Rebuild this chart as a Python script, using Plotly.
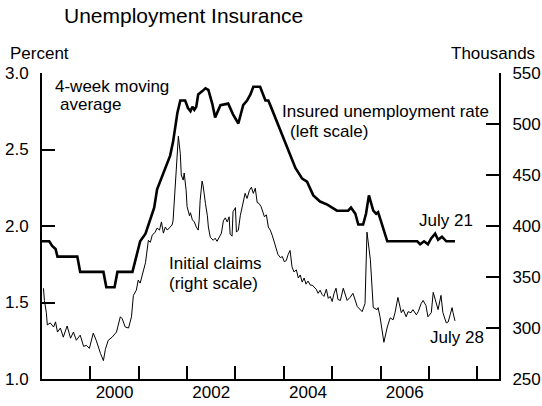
import plotly.graph_objects as go

# ---- Data ----
rate_years = [1999.00, 1999.15, 1999.21, 1999.28, 1999.32, 1999.73, 1999.79, 2000.27, 2000.33, 2000.50,
              2000.56, 2000.87, 2000.95, 2001.03, 2001.14, 2001.24, 2001.32, 2001.38, 2001.45, 2001.55,
              2001.65, 2001.71, 2001.80, 2001.86, 2001.96, 2002.02, 2002.07, 2002.11, 2002.15, 2002.19,
              2002.23, 2002.31, 2002.38, 2002.44, 2002.52, 2002.58, 2002.69, 2002.85, 2002.95, 2003.06,
              2003.16, 2003.24, 2003.31, 2003.37, 2003.51, 2003.62, 2003.68, 2003.72, 2003.82, 2003.93,
              2004.03, 2004.13, 2004.24, 2004.38, 2004.48, 2004.61, 2004.75, 2004.90, 2005.10, 2005.33,
              2005.39, 2005.48, 2005.54, 2005.64, 2005.70, 2005.76, 2005.85, 2005.91, 2005.95, 2006.03,
              2006.14, 2006.76, 2006.82, 2006.90, 2006.98, 2007.05, 2007.13, 2007.19, 2007.27, 2007.36,
              2007.54]
rate_values = [1.90, 1.90, 1.87, 1.85, 1.80, 1.80, 1.70, 1.70, 1.60, 1.60,
               1.70, 1.70, 1.80, 1.90, 1.95, 2.04, 2.12, 2.24, 2.30, 2.38,
               2.46, 2.55, 2.74, 2.82, 2.82, 2.77, 2.75, 2.78, 2.76, 2.78,
               2.86, 2.88, 2.90, 2.89, 2.80, 2.71, 2.79, 2.80, 2.73, 2.67,
               2.79, 2.82, 2.86, 2.91, 2.91, 2.82, 2.82, 2.79, 2.71, 2.63,
               2.55, 2.46, 2.38, 2.31, 2.29, 2.20, 2.16, 2.14, 2.10, 2.10,
               2.12, 2.08, 2.01, 2.01, 2.08, 2.20, 2.10, 2.08, 2.09, 2.01,
               1.90, 1.90, 1.88, 1.90, 1.88, 1.92, 1.95, 1.91, 1.93, 1.90,
               1.90]

claims_years = [1999.03, 1999.05, 1999.09, 1999.11, 1999.17, 1999.24, 1999.28, 1999.32, 1999.38, 1999.44,
                1999.52, 1999.59, 1999.65, 1999.71, 1999.79, 1999.86, 1999.92, 1999.98, 2000.06, 2000.12,
                2000.21, 2000.27, 2000.31, 2000.37, 2000.45, 2000.54, 2000.62, 2000.66, 2000.72, 2000.79,
                2000.85, 2000.89, 2000.95, 2000.99, 2001.03, 2001.07, 2001.14, 2001.20, 2001.24, 2001.28,
                2001.34, 2001.38, 2001.43, 2001.47, 2001.51, 2001.55, 2001.59, 2001.65, 2001.69, 2001.71,
                2001.76, 2001.80, 2001.82, 2001.86, 2001.88, 2001.92, 2001.94, 2001.98, 2002.00, 2002.05,
                2002.07, 2002.11, 2002.15, 2002.19, 2002.23, 2002.25, 2002.27, 2002.31, 2002.33, 2002.38,
                2002.42, 2002.44, 2002.48, 2002.54, 2002.58, 2002.62, 2002.67, 2002.71, 2002.75, 2002.79,
                2002.83, 2002.87, 2002.89, 2002.93, 2002.95, 2003.00, 2003.02, 2003.06, 2003.10, 2003.14,
                2003.20, 2003.24, 2003.29, 2003.33, 2003.37, 2003.41, 2003.45, 2003.49, 2003.53, 2003.60,
                2003.64, 2003.68, 2003.72, 2003.76, 2003.80, 2003.84, 2003.88, 2003.93, 2003.97, 2004.01,
                2004.05, 2004.09, 2004.13, 2004.17, 2004.21, 2004.26, 2004.30, 2004.34, 2004.38, 2004.42,
                2004.46, 2004.50, 2004.55, 2004.59, 2004.63, 2004.67, 2004.71, 2004.75, 2004.79, 2004.83,
                2004.88, 2004.92, 2004.96, 2005.00, 2005.04, 2005.08, 2005.12, 2005.17, 2005.23, 2005.31,
                2005.37, 2005.43, 2005.52, 2005.58, 2005.62, 2005.68, 2005.72, 2005.79, 2005.85, 2005.93,
                2005.95, 2005.99, 2006.05, 2006.07, 2006.14, 2006.20, 2006.26, 2006.30, 2006.36, 2006.43,
                2006.47, 2006.53, 2006.57, 2006.63, 2006.67, 2006.74, 2006.78, 2006.84, 2006.88, 2006.94,
                2006.98, 2007.05, 2007.09, 2007.15, 2007.19, 2007.25, 2007.29, 2007.36, 2007.40, 2007.44,
                2007.48, 2007.50, 2007.54]
claims_values = [339, 327, 315, 303, 305, 301, 306, 296, 300, 291,
                 302, 290, 296, 288, 293, 282, 283, 280, 295, 288,
                 275, 268, 279, 288, 291, 296, 311, 309, 301, 300,
                 311, 332, 337, 347, 344, 352, 364, 386, 384, 391,
                 394, 398, 396, 404, 393, 399, 396, 399, 401, 405,
                 445, 482, 488, 471, 450, 445, 452, 435, 419, 410,
                 413, 406, 404, 399, 396, 406, 425, 444, 440, 422,
                 410, 399, 389, 386, 388, 385, 389, 393, 405, 408,
                 404, 409, 392, 390, 414, 418, 394, 396, 410, 419,
                 432, 427, 435, 438, 432, 437, 423, 422, 419, 409,
                 411, 399, 396, 391, 384, 379, 372, 369, 370, 365,
                 366, 372, 376, 360, 355, 357, 349, 352, 345, 349,
                 343, 346, 342, 342, 340, 338, 334, 337, 333, 331,
                 338, 329, 331, 326, 334, 339, 328, 327, 339, 327,
                 330, 334, 321, 318, 316, 324, 394, 367, 320, 318,
                 320, 311, 290, 286, 301, 310, 308, 315, 330, 315,
                 318, 311, 316, 315, 318, 313, 316, 324, 327, 322,
                 311, 315, 335, 324, 318, 332, 315, 305, 306, 313,
                 320, 315, 307]

left_ticks = [1.0, 1.5, 2.0, 2.5, 3.0]
left_ticktext = ["1.0", "1.5", "2.0", "2.5", "3.0"]
right_ticks = [250, 300, 350, 400, 450, 500, 550]
year_boundaries = [2000, 2001, 2002, 2003, 2004, 2005, 2006, 2007, 2008]
year_label_pos = [2000.5, 2002.5, 2004.5, 2006.5]
year_labels = ["2000", "2002", "2004", "2006"]
x_range = [1999.0, 2008.45]

FONT = "Liberation Sans, Arial, Helvetica, sans-serif"
W, H = 542, 406
L, R, T, B = 42, 43, 73, 27
PW, PH = W - L - R, H - T - B


def px(xp):
    return (xp - L) / PW


def py(yp):
    return (H - B - yp) / PH


fig = go.Figure()
fig.add_trace(go.Scatter(x=claims_years, y=claims_values, mode="lines", xaxis="x", yaxis="y2",
                         line=dict(color="black", width=1), showlegend=False, hoverinfo="skip"))
fig.add_trace(go.Scatter(x=rate_years, y=rate_values, mode="lines", xaxis="x", yaxis="y",
                         line=dict(color="black", width=2.6), showlegend=False, hoverinfo="skip"))
# invisible helper trace so the label axis is drawn
fig.add_trace(go.Scatter(x=[year_label_pos[0]], y=[left_ticks[0]], mode="markers", xaxis="x2", yaxis="y",
                         marker=dict(opacity=0), showlegend=False, hoverinfo="skip"))

fig.update_layout(
    width=W, height=H,
    margin=dict(l=L, r=R, t=T, b=B, pad=0, autoexpand=False),
    paper_bgcolor="white", plot_bgcolor="white",
    font=dict(family=FONT, size=17, color="black"),
    xaxis=dict(range=x_range, showgrid=False, zeroline=False, automargin=False,
               showline=True, linecolor="black", linewidth=2,
               tickmode="array", tickvals=year_boundaries, showticklabels=False,
               ticks="inside", ticklen=13, tickwidth=2, tickcolor="black"),
    xaxis2=dict(range=x_range, overlaying="x", side="bottom", anchor="y",
                showgrid=False, zeroline=False, automargin=False, showline=False,
                tickmode="array", tickvals=year_label_pos, ticktext=year_labels,
                ticks="", ticklabelstandoff=1),
    yaxis=dict(range=[1.0, 3.0], showgrid=False, zeroline=False, automargin=False,
               showline=True, linecolor="black", linewidth=2,
               tickmode="array", tickvals=left_ticks, ticktext=left_ticktext,
               ticks="inside", ticklen=13, tickwidth=2, tickcolor="black",
               ticklabelstandoff=8),
    yaxis2=dict(range=[250, 550], overlaying="y", side="right", showgrid=False, zeroline=False,
                automargin=False, showline=True, linecolor="black", linewidth=2,
                tickmode="array", tickvals=right_ticks,
                ticks="inside", ticklen=13, tickwidth=2, tickcolor="black",
                ticklabelstandoff=8),
)

ann = [
    ("Unemployment Insurance", 62, 15, "left", 21),
    ("Percent", 8, 53, "left", 17),
    ("Thousands", 537, 53, "right", 17),
    ("4-week moving", 53, 87, "left", 17),
    ("average", 58, 105, "left", 17),
    ("Insured unemployment rate", 280, 111, "left", 17),
    ("(left scale)", 288, 131, "left", 17),
    ("Initial claims", 167, 263, "left", 17),
    ("(right scale)", 167, 283, "left", 17),
    ("July 21", 417, 220, "left", 17),
    ("July 28", 428, 337, "left", 17),
]
for text, xp, yp, anchor, size in ann:
    fig.add_annotation(text=text, xref="paper", yref="paper", x=px(xp), y=py(yp),
                       xanchor=anchor, yanchor="middle", showarrow=False,
                       font=dict(family=FONT, size=size, color="black"))

fig.write_html("out.html",
               config={"displayModeBar": False, "staticPlot": True},
               post_script="document.body.style.margin='0';document.body.style.padding='0';")
